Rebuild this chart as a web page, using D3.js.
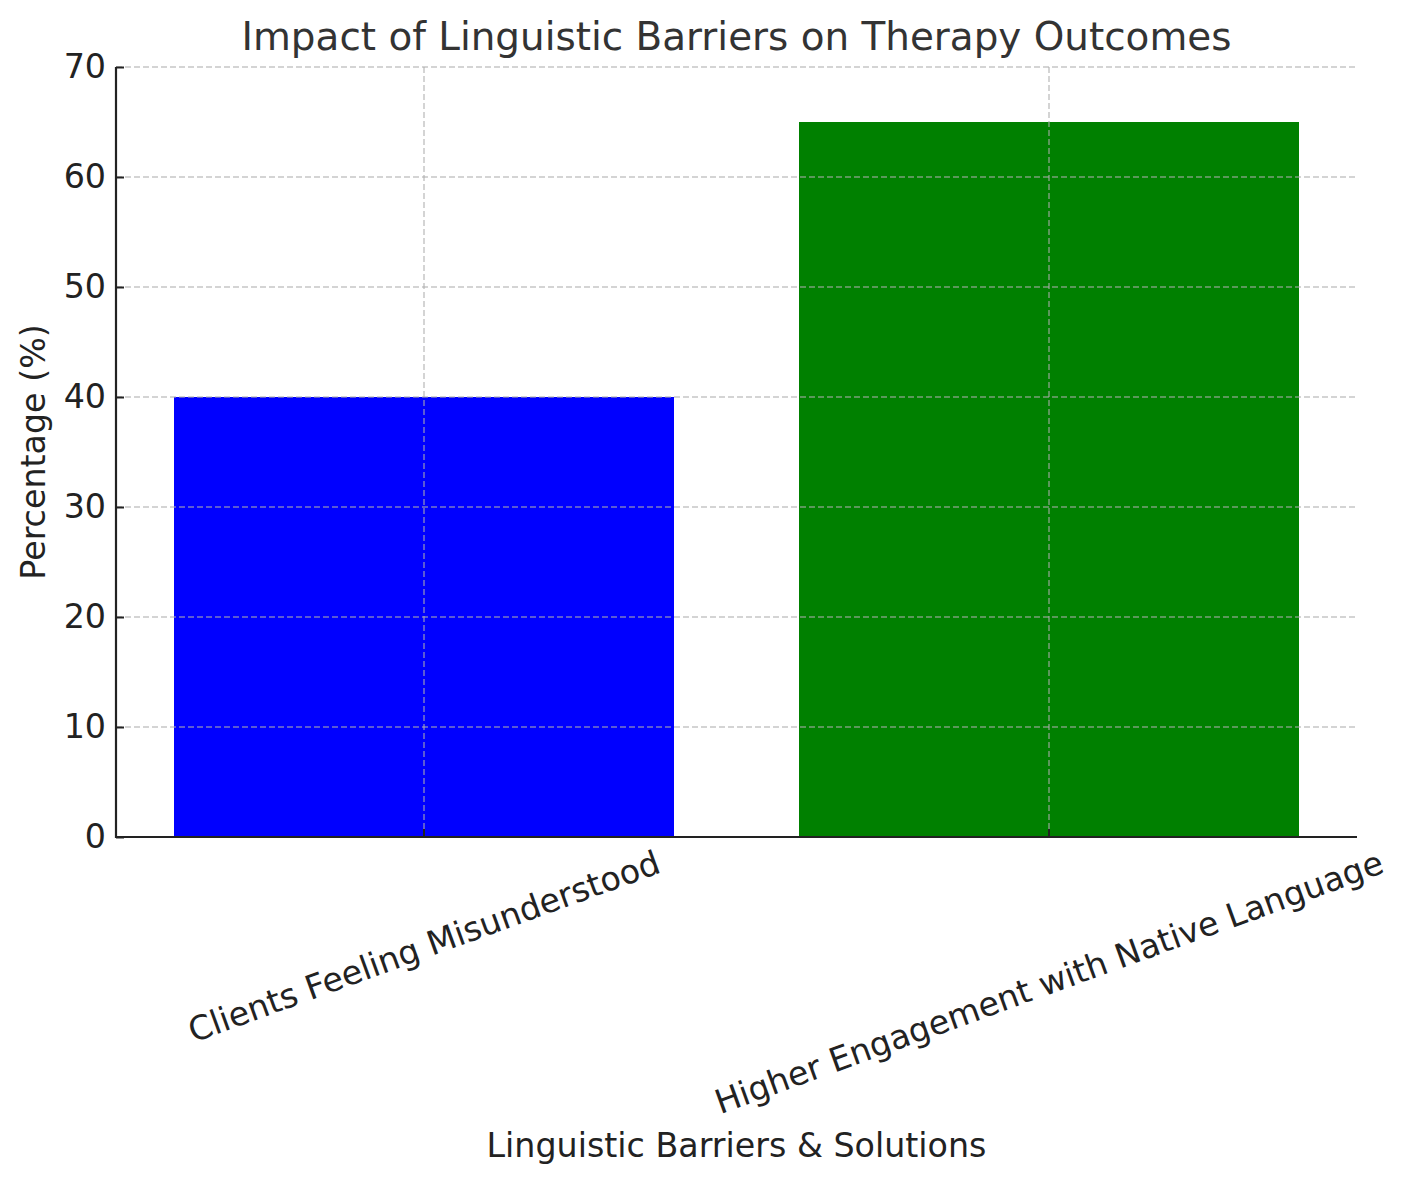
<!DOCTYPE html>
<html>
<head>
<meta charset="utf-8">
<script src="https://cdn.jsdelivr.net/npm/d3@7"></script>
<style>
  html, body { margin: 0; padding: 0; background: #fff; }
  svg { display: block; font-family: "DejaVu Sans", sans-serif; }
</style>
</head>
<body>
<svg id="chart" width="1408" height="1184"></svg>
<script>
const categories = ["Clients Feeling Misunderstood", "Higher Engagement with Native Language"];
const values = [40, 65];
const barColors = ["#0000ff", "#008000"];
const yTicks = [0, 10, 20, 30, 40, 50, 60, 70];
const title = "Impact of Linguistic Barriers on Therapy Outcomes";
const xLabel = "Linguistic Barriers & Solutions";
const yLabel = "Percentage (%)";

const W = 1408, H = 1184;
const m = { left: 116, right: 1357, top: 67, bottom: 837 };
const svg = d3.select("#chart");

const x = d3.scaleBand().domain(categories).range([m.left, m.right])
  .paddingInner(0.2).paddingOuter(0.0928);
const y = d3.scaleLinear().domain([0, 70]).range([m.bottom, m.top]);

// bars
svg.append("g").selectAll("rect").data(categories).join("rect")
  .attr("x", d => x(d))
  .attr("width", x.bandwidth())
  .attr("y", (d, i) => y(values[i]))
  .attr("height", (d, i) => y(0) - y(values[i]))
  .attr("fill", (d, i) => barColors[i]);

// grid (drawn over bars)
const grid = svg.append("g").attr("stroke", "#aeaeae").attr("stroke-opacity", 0.7)
  .attr("stroke-width", 1.5).attr("stroke-dasharray", "6,3");
grid.selectAll("line.h").data(yTicks).join("line").attr("class", "h")
  .attr("x1", m.left).attr("x2", m.right)
  .attr("y1", d => y(d)).attr("y2", d => y(d));
grid.selectAll("line.v").data(categories).join("line").attr("class", "v")
  .attr("x1", d => x(d) + x.bandwidth() / 2).attr("x2", d => x(d) + x.bandwidth() / 2)
  .attr("y1", m.top).attr("y2", m.bottom);

// y axis
const fs = 33.3;
const yAxis = svg.append("g").attr("transform", `translate(${m.left},0)`)
  .call(d3.axisLeft(y).tickValues(yTicks).tickSizeInner(-8).tickSizeOuter(0).tickPadding(10));
yAxis.select(".domain").remove();
yAxis.selectAll(".tick line").attr("stroke", "#222").attr("stroke-width", 2);
yAxis.selectAll(".tick text").attr("font-size", fs + "px").attr("fill", "#222")
  .attr("font-family", "DejaVu Sans");

// x axis
const xAxis = svg.append("g").attr("transform", `translate(0,${m.bottom})`)
  .call(d3.axisBottom(x).tickSizeInner(-8).tickSizeOuter(0).tickFormat(""));
xAxis.select(".domain").remove();
xAxis.selectAll(".tick line").attr("stroke", "#222").attr("stroke-width", 2);

// spines
svg.append("line").attr("x1", m.left).attr("x2", m.left).attr("y1", m.top).attr("y2", m.bottom + 1)
  .attr("stroke", "#222").attr("stroke-width", 2.2);
svg.append("line").attr("x1", m.left - 1).attr("x2", m.right).attr("y1", m.bottom).attr("y2", m.bottom)
  .attr("stroke", "#222").attr("stroke-width", 2.2);

// rotated x tick labels
const ang = 20 * Math.PI / 180;
const lblG = svg.append("g");
categories.forEach(c => {
  const cx = x(c) + x.bandwidth() / 2;
  const t = lblG.append("text").text(c)
    .attr("font-size", fs + "px").attr("fill", "#222")
    .attr("text-anchor", "middle").attr("dominant-baseline", "central");
  const L = t.node().getComputedTextLength();
  const hh = fs * 1.164;
  const bh = L * Math.sin(ang) + hh * Math.cos(ang);
  const cy = 843 + bh / 2;
  t.attr("transform", `translate(${cx},${cy}) rotate(-20)`);
});

// title
svg.append("text").attr("x", (m.left + m.right) / 2).attr("y", 50)
  .attr("text-anchor", "middle").attr("font-size", "38.9px").attr("fill", "#333")
  .text(title);

// axis labels
svg.append("text").attr("x", (m.left + m.right) / 2).attr("y", 1157)
  .attr("text-anchor", "middle").attr("font-size", fs + "px").attr("fill", "#222")
  .text(xLabel);
svg.append("text").attr("transform", `translate(45,${(m.top + m.bottom) / 2}) rotate(-90)`)
  .attr("text-anchor", "middle").attr("font-size", fs + "px").attr("fill", "#222")
  .text(yLabel);
</script>
</body>
</html>
